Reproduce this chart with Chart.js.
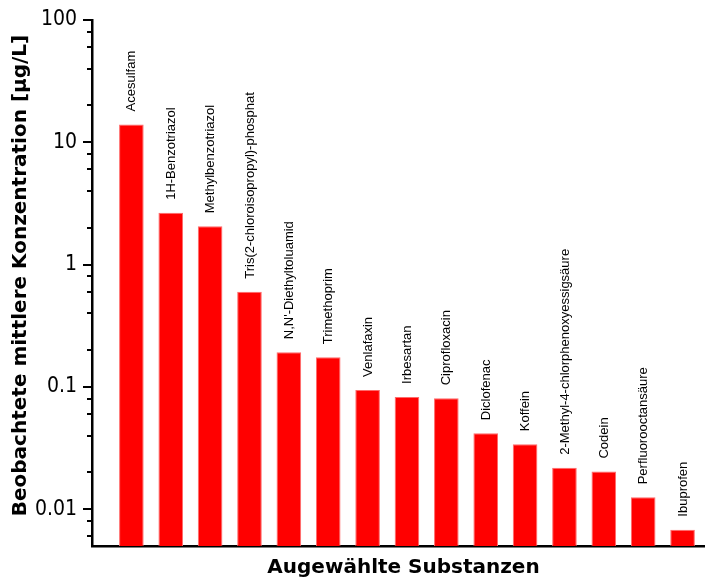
<!DOCTYPE html>
<html>
<head>
<meta charset="utf-8">
<title>Beobachtete mittlere Konzentration</title>
<script src="https://cdn.jsdelivr.net/npm/chart.js@4/dist/chart.umd.min.js"></script>
<style>
  html, body { margin: 0; padding: 0; background: #ffffff; }
  #wrap { width: 705px; height: 578px; }
</style>
</head>
<body>
<div id="wrap"><canvas id="chart" width="705" height="578"></canvas></div>
<script>
// Substances, ordered by observed mean concentration
const substances = [
  'Acesulfam',
  '1H-Benzotriazol',
  'Methylbenzotriazol',
  'Tris(2-chloroisopropyl)-phosphat',
  "N,N'-Diethyltoluamid",
  'Trimethoprim',
  'Venlafaxin',
  'Irbesartan',
  'Ciprofloxacin',
  'Diclofenac',
  'Koffein',
  '2-Methyl-4-chlorphenoxyessigsäure',
  'Codein',
  'Perfluorooctansäure',
  'Ibuprofen'
];

// Observed mean concentration in µg/L
const concentrations = [
  14, 2.65, 2.06, 0.60, 0.192, 0.175, 0.0945, 0.0827, 0.0807,
  0.0418, 0.034, 0.0218, 0.0203, 0.0125, 0.0068
];

// Labelled decades and the unlabelled intermediate ticks of the log axis
const majorTicks = [0.01, 0.1, 1, 10, 100];
const minorTicks = [
  0.006, 0.008,
  0.02, 0.04, 0.06, 0.08,
  0.2, 0.4, 0.6, 0.8,
  2, 4, 6, 8,
  20, 40, 60, 80
];

const yTitle = 'Beobachtete mittlere Konzentration [µg/L]';
const xTitle = 'Augewählte Substanzen';

const tickFont = '"DejaVu Sans Condensed", "DejaVu Sans", sans-serif';
const titleFont = '"DejaVu Sans", sans-serif';
const labelFont = '"Liberation Sans", Arial, sans-serif';

// Each bar sits at position 1..n on a numeric x axis
const points = concentrations.map((v, i) => ({ x: i + 1, y: v }));

// Tick marks on the outside of the y axis (long for decades, short in between)
const yTickMarks = {
  id: 'yTickMarks',
  afterDraw(chart) {
    const ctx = chart.ctx;
    const y = chart.scales.y;
    const x0 = chart.chartArea.left;
    ctx.save();
    ctx.strokeStyle = '#000000';
    ctx.lineWidth = 2;
    const mark = (v, len) => {
      const py = Math.round(y.getPixelForValue(v));
      ctx.beginPath();
      ctx.moveTo(x0 - len, py);
      ctx.lineTo(x0, py);
      ctx.stroke();
    };
    majorTicks.forEach(v => mark(v, 9));
    minorTicks.forEach(v => { if (v >= y.min && v <= y.max) mark(v, 5); });
    ctx.restore();
  }
};

// Substance names written upward above each bar
const barNames = {
  id: 'barNames',
  afterDatasetsDraw(chart) {
    const ctx = chart.ctx;
    const meta = chart.getDatasetMeta(0);
    ctx.save();
    ctx.fillStyle = '#000000';
    ctx.font = '13px ' + labelFont;
    ctx.textAlign = 'left';
    ctx.textBaseline = 'middle';
    meta.data.forEach((bar, i) => {
      ctx.save();
      ctx.translate(bar.x + 0.5, bar.y - 13);
      ctx.rotate(-Math.PI / 2);
      ctx.fillText(substances[i], 0, 0);
      ctx.restore();
    });
    ctx.restore();
  }
};

// Axis titles
const axisTitles = {
  id: 'axisTitles',
  afterDraw(chart) {
    const ctx = chart.ctx;
    ctx.save();
    ctx.fillStyle = '#000000';
    ctx.font = 'bold 20px ' + titleFont;
    ctx.textAlign = 'center';
    ctx.textBaseline = 'alphabetic';
    ctx.fillText(xTitle, 403.5, 573);
    ctx.translate(26, 275.5);
    ctx.rotate(-Math.PI / 2);
    ctx.fillText(yTitle, 0, 0);
    ctx.restore();
  }
};

new Chart(document.getElementById('chart'), {
  type: 'bar',
  data: {
    datasets: [{
      data: points,
      backgroundColor: '#ff0000',
      borderColor: '#ff6a6a',
      borderWidth: 1,
      categoryPercentage: 1,
      barPercentage: 0.625
    }]
  },
  options: {
    responsive: false,
    devicePixelRatio: 1,
    animation: false,
    layout: { padding: { top: 20, right: 0, bottom: 0, left: 0 } },
    plugins: {
      legend: { display: false },
      tooltip: { enabled: false },
      title: { display: false }
    },
    scales: {
      x: {
        type: 'linear',
        offset: false,
        min: 0,
        max: 15.57,
        ticks: { display: false },
        grid: { display: false, drawTicks: false },
        border: { display: true, color: '#000000', width: 2.5 },
        afterFit(scale) { scale.height = 32; }
      },
      y: {
        type: 'logarithmic',
        min: 0.005,
        max: 100,
        afterBuildTicks(scale) {
          scale.ticks = majorTicks.map(v => ({ value: v, major: true }));
        },
        ticks: {
          autoSkip: false,
          padding: 15,
          color: '#000000',
          font: { family: tickFont, size: 21 },
          callback: v => String(v)
        },
        grid: { display: false, drawTicks: false },
        border: { display: true, color: '#000000', width: 2.5 },
        afterFit(scale) {
          scale.width = 92;
          scale.paddingTop = 0;
          scale.paddingBottom = 0;
        }
      }
    }
  },
  plugins: [yTickMarks, barNames, axisTitles]
});
</script>
</body>
</html>
